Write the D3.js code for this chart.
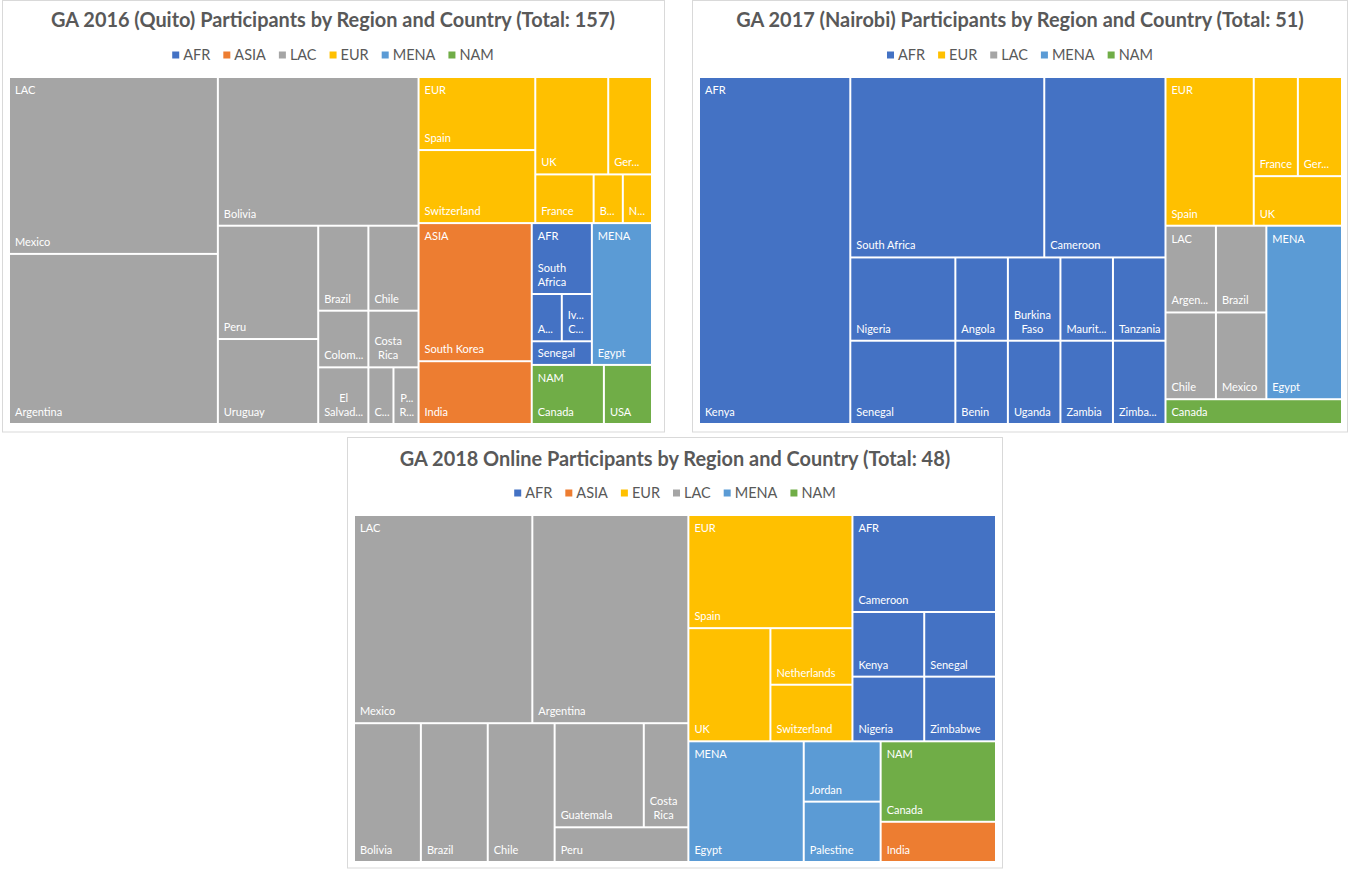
<!DOCTYPE html>
<html>
<head>
<meta charset="utf-8">
<script src="https://cdn.jsdelivr.net/npm/d3@7"></script>
<style>
  body { margin: 0; background: #ffffff; }
  svg { display: block; font-family: Lato, "Open Sans", "DejaVu Sans", sans-serif; }
</style>
</head>
<body>
<svg id="chart" width="1348" height="870"></svg>
<script>
// ---------- data: participants per country, grouped by region ----------
const countries2016 = ["Mexico", "Argentina", "Bolivia", "Peru", "Uruguay", "Brazil", "Chile", "Colombia", "Costa Rica", "El Salvador", "Cuba", "Puerto Rico",
  "Spain", "Switzerland", "UK", "Germany", "France", "Belgium", "Netherlands",
  "South Korea", "India",
  "South Africa", "Angola", "Ivory Coast", "Senegal",
  "Egypt",
  "Canada", "USA"];
const regions2016 = ["LAC", "LAC", "LAC", "LAC", "LAC", "LAC", "LAC", "LAC", "LAC", "LAC", "LAC", "LAC",
  "EUR", "EUR", "EUR", "EUR", "EUR", "EUR", "EUR",
  "ASIA", "ASIA",
  "AFR", "AFR", "AFR", "AFR",
  "MENA",
  "NAM", "NAM"];
const counts2016 = [26, 25, 21, 8, 6, 3, 3, 2, 2, 2, 1, 1,
  6, 6, 5, 3, 2, 1, 1,
  11, 5,
  3, 1, 1, 1,
  6,
  3, 2];
const legend2016 = ["AFR", "ASIA", "LAC", "EUR", "MENA", "NAM"];

const countries2017 = ["Kenya", "South Africa", "Cameroon", "Nigeria", "Senegal", "Angola", "Benin", "Burkina Faso", "Mauritius", "Tanzania", "Uganda", "Zambia", "Zimbabwe",
  "Spain", "France", "Germany", "UK",
  "Argentina", "Brazil", "Chile", "Mexico",
  "Egypt",
  "Canada"];
const regions2017 = ["AFR", "AFR", "AFR", "AFR", "AFR", "AFR", "AFR", "AFR", "AFR", "AFR", "AFR", "AFR", "AFR",
  "EUR", "EUR", "EUR", "EUR",
  "LAC", "LAC", "LAC", "LAC",
  "MENA",
  "NAM"];
const counts2017 = [12, 8, 5, 2, 2, 1, 1, 1, 1, 1, 1, 1, 1,
  3, 1, 1, 1,
  1, 1, 1, 1,
  3,
  1];
const legend2017 = ["AFR", "EUR", "LAC", "MENA", "NAM"];

const countries2018 = ["Mexico", "Argentina", "Bolivia", "Brazil", "Chile", "Guatemala", "Costa Rica", "Peru",
  "Spain", "UK", "Netherlands", "Switzerland",
  "Cameroon", "Kenya", "Nigeria", "Senegal", "Zimbabwe",
  "Egypt", "Jordan", "Palestine",
  "Canada",
  "India"];
const regions2018 = ["LAC", "LAC", "LAC", "LAC", "LAC", "LAC", "LAC", "LAC",
  "EUR", "EUR", "EUR", "EUR",
  "AFR", "AFR", "AFR", "AFR", "AFR",
  "MENA", "MENA", "MENA",
  "NAM",
  "ASIA"];
const counts2018 = [8, 7, 2, 2, 2, 2, 1, 1,
  4, 2, 1, 1,
  3, 1, 1, 1, 1,
  3, 1, 1,
  2,
  1];
const legend2018 = ["AFR", "ASIA", "EUR", "LAC", "MENA", "NAM"];

const regionNames = ["AFR", "ASIA", "LAC", "EUR", "MENA", "NAM"];
const regionColors = ["#4472C4", "#ED7D31", "#A5A5A5", "#FFC000", "#5B9BD5", "#70AD47"];

// ---------- page layout ----------
const panels = [
  { title: "GA 2016 (Quito) Participants by Region and Country", countries: countries2016, regions: regions2016, counts: counts2016, legend: legend2016,
    frame: [2.5, 0.5, 662, 431.5], cx: 333, titleY: 27, legendY: 55, plot: [9, 77, 643, 347] },
  { title: "GA 2017 (Nairobi) Participants by Region and Country", countries: countries2017, regions: regions2017, counts: counts2017, legend: legend2017,
    frame: [692.5, 0.5, 655, 431.5], cx: 1020, titleY: 27, legendY: 55, plot: [699, 77, 643, 347] },
  { title: "GA 2018 Online Participants by Region and Country", countries: countries2018, regions: regions2018, counts: counts2018, legend: legend2018,
    frame: [347.5, 437.5, 655, 430.5], cx: 675, titleY: 466, legendY: 493, plot: [354, 515, 642, 347] }
];

const svg = d3.select("#chart");
const color = d3.scaleOrdinal(regionNames, regionColors);
const LABEL_SIZE = 11, LINE_H = 14, PAD = 4;

// text measuring helper
const meter = svg.append("text").attr("visibility", "hidden");
function textWidth(s, size, weight) {
  meter.style("font-size", size + "px").style("font-weight", weight || "normal").text(s);
  return meter.node().getComputedTextLength();
}
function clip(word, avail) {
  if (textWidth(word, LABEL_SIZE) <= avail) return word;
  for (let k = word.length - 1; k >= 1; k--) {
    const t = word.slice(0, k) + "...";
    if (textWidth(t, LABEL_SIZE) <= avail) return t;
  }
  return word[0] + "...";
}
function fitLines(name, avail, maxLines) {
  if (textWidth(name, LABEL_SIZE) <= avail) return [name];
  const lines = [];
  let cur = "";
  for (const w of name.split(" ")) {
    const t = cur ? cur + " " + w : w;
    if (!cur || textWidth(t, LABEL_SIZE) <= avail) cur = t;
    else { lines.push(cur); cur = w; }
  }
  lines.push(cur);
  while (lines.length > maxLines) { const last = lines.pop(); lines[lines.length - 1] += " " + last; }
  return lines.map(l => clip(l, avail));
}

// squarified rows, with tiles scored against a slightly portrait target shape
const TARGET = 1.21;
function portraitSquarify(parent, x0, y0, x1, y1) {
  const nodes = parent.children, n = nodes.length;
  let value = parent.value, i0 = 0;
  while (i0 < n) {
    const dx = x1 - x0, dy = y1 - y0;
    const across = dx < dy;              // row across the top, otherwise a column on the left
    const span = across ? dx : dy;
    const depth = across ? dy : dx;
    const score = (i1) => {
      let sum = 0;
      for (let i = i0; i < i1; i++) sum += nodes[i].value;
      const thick = depth * sum / value;
      let worst = 0;
      for (let i = i0; i < i1; i++) {
        const len = span * nodes[i].value / sum;
        const a = across ? thick / len : len / thick;   // height / width
        worst = Math.max(worst, a / TARGET, TARGET / a);
      }
      return [worst, sum];
    };
    let i1 = i0 + 1;
    let [best, sum] = score(i1);
    while (i1 < n) {
      const [s, t] = score(i1 + 1);
      if (s > best) break;
      best = s; sum = t; i1++;
    }
    const row = { value: sum, children: nodes.slice(i0, i1) };
    const last = i1 === n;
    if (across) {
      const yy = last ? y1 : y0 + dy * sum / value;
      d3.treemapDice(row, x0, y0, x1, yy); y0 = yy;
    } else {
      const xx = last ? x1 : x0 + dx * sum / value;
      d3.treemapSlice(row, x0, y0, xx, y1); x0 = xx;
    }
    value -= sum; i0 = i1;
  }
}

// title size shared by all three charts
const titleText = p => `${p.title} (Total: ${d3.sum(p.counts)})`;
const TITLE_SIZE = 100 * 564 / textWidth(titleText(panels[0]), 100, "bold");

panels.forEach(p => {
  const g = svg.append("g");

  g.append("rect")
    .attr("x", p.frame[0]).attr("y", p.frame[1])
    .attr("width", p.frame[2]).attr("height", p.frame[3])
    .attr("fill", "#ffffff").attr("stroke", "#d9d9d9").attr("stroke-width", 1);

  g.append("text")
    .attr("x", p.cx).attr("y", p.titleY)
    .attr("text-anchor", "middle")
    .style("font-size", TITLE_SIZE + "px").style("font-weight", "bold")
    .attr("fill", "#595959")
    .text(titleText(p));

  // legend, centred under the title
  const LEG_SIZE = 14.5, SW = 7, SW_GAP = 4, ITEM_GAP = 13;
  const widths = p.legend.map(r => SW + SW_GAP + textWidth(r, LEG_SIZE));
  const total = d3.sum(widths) + ITEM_GAP * (p.legend.length - 1);
  let lx = p.cx - total / 2;
  const leg = g.append("g");
  p.legend.forEach((r, i) => {
    leg.append("rect").attr("x", lx).attr("y", p.legendY - SW / 2)
      .attr("width", SW).attr("height", SW).attr("fill", color(r));
    leg.append("text").attr("x", lx + SW + SW_GAP).attr("y", p.legendY + 5)
      .style("font-size", LEG_SIZE + "px").attr("fill", "#595959").text(r);
    lx += widths[i] + ITEM_GAP;
  });

  // hierarchy: regions -> countries
  const rows = p.countries.map((c, i) => ({ name: c, region: p.regions[i], value: p.counts[i] }));
  const tree = {
    name: "all",
    children: Array.from(d3.group(rows, d => d.region), ([name, kids]) => ({ name, children: kids }))
  };
  const root = d3.hierarchy(tree)
    .sum(d => d.children ? 0 : d.value)
    .sort((a, b) => b.value - a.value || d3.ascending(a.data.name, b.data.name));

  d3.treemap().tile(portraitSquarify).size([p.plot[2], p.plot[3]])(root);

  const map = g.append("g").attr("transform", `translate(${p.plot[0]},${p.plot[1]})`);
  const leaves = map.selectAll("g.leaf").data(root.leaves()).join("g").attr("class", "leaf");

  leaves.append("rect")
    .attr("x", d => d.x0 + 1).attr("y", d => d.y0 + 1)
    .attr("width", d => Math.max(0, d.x1 - d.x0 - 2))
    .attr("height", d => Math.max(0, d.y1 - d.y0 - 2))
    .attr("fill", d => color(d.data.region));

  leaves.each(function (d) {
    const cell = d3.select(this);
    const left = d.x0 + 1 + PAD + 1, w = d.x1 - d.x0 - 2, h = d.y1 - d.y0 - 2;
    const avail = w - 2 * PAD - 1;
    const header = d.parent.children[0] === d && h >= 48;
    if (header) {
      cell.append("text").attr("x", left).attr("y", d.y0 + 1 + 16)
        .style("font-size", LABEL_SIZE + "px").attr("fill", "#ffffff")
        .text(clip(d.data.region, avail));
    }
    const maxLines = Math.max(1, Math.floor((h - (header ? 24 : 8)) / LINE_H));
    const lines = fitLines(d.data.name, avail, maxLines);
    const blockW = d3.max(lines, l => textWidth(l, LABEL_SIZE));
    const base = d.y1 - 1 - 7;
    lines.forEach((l, i) => {
      cell.append("text")
        .attr("x", lines.length > 1 ? left + blockW / 2 : left)
        .attr("y", base - (lines.length - 1 - i) * LINE_H)
        .attr("text-anchor", lines.length > 1 ? "middle" : "start")
        .style("font-size", LABEL_SIZE + "px").attr("fill", "#ffffff")
        .text(l);
    });
  });
});

meter.remove();
</script>
</body>
</html>
